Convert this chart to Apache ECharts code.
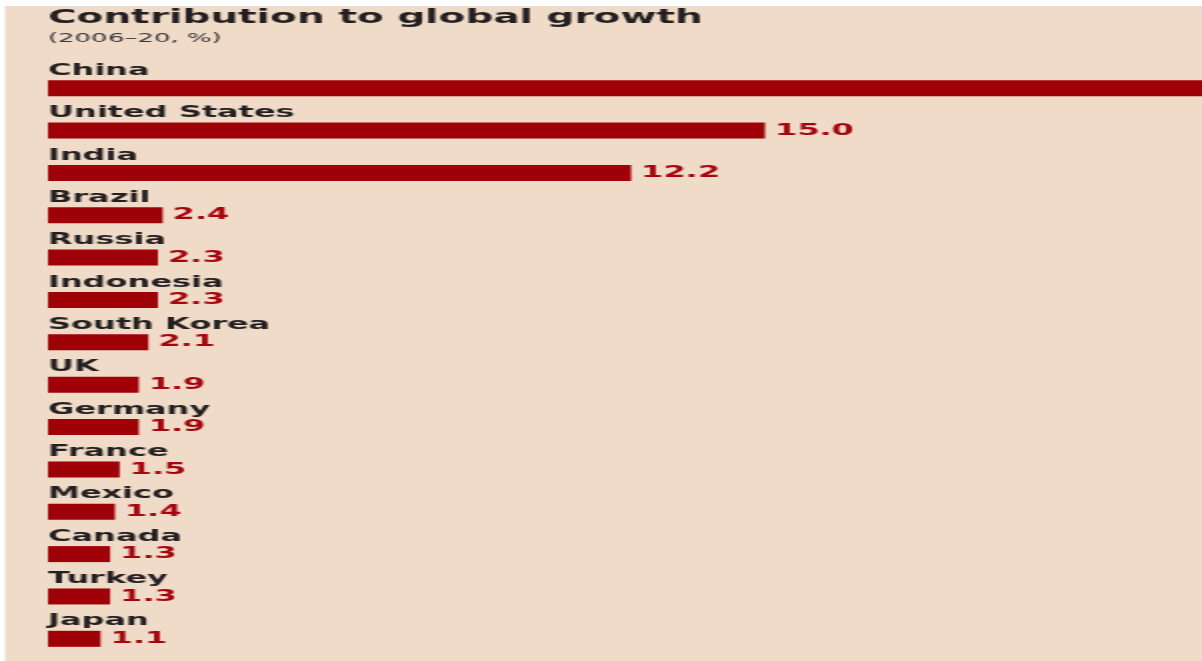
<!DOCTYPE html>
<html>
<head>
<meta charset="utf-8">
<script src="https://cdn.jsdelivr.net/npm/echarts@6/dist/echarts.min.js"></script>
<style>
  html, body { margin: 0; padding: 0; background: #ffffff; overflow: hidden; }
  #wrap { width: 1202px; height: 661px; overflow: hidden; position: relative; }
  #chart { width: 780px; height: 661px; transform: scaleX(2); transform-origin: 0 0; position: absolute; left: 0; top: 0; }
</style>
</head>
<body>
<div id="wrap"><div id="chart"></div></div>
<script>
const titleText = 'Contribution to global growth';
const subtitleText = '(2006\u201320, %)';
const categories = ['China', 'United States', 'India', 'Brazil', 'Russia', 'Indonesia', 'South Korea', 'UK', 'Germany', 'France', 'Mexico', 'Canada', 'Turkey', 'Japan'];
const values = [28.0, 15.0, 12.2, 2.4, 2.3, 2.3, 2.1, 1.9, 1.9, 1.5, 1.4, 1.3, 1.3, 1.1];

const chart = echarts.init(document.getElementById('chart'));
const font = 'DejaVu Sans';
chart.setOption({
  backgroundColor: '#ffffff',
  animation: false,
  graphic: [{
    type: 'rect', z: -10, silent: true,
    shape: { x: 2.5, y: 6, width: 900, height: 700 },
    style: { fill: '#efdbc7' }
  }],
  title: {
    text: titleText,
    subtext: subtitleText,
    left: 24, top: 8, padding: 0,
    itemGap: 4,
    textStyle: { fontFamily: font, fontSize: 19.5, fontWeight: 'bold', color: '#231f20' },
    subtextStyle: { fontFamily: font, fontSize: 13, fontWeight: 'normal', color: '#3a3536' }
  },
  grid: { left: 24, top: 67, width: 717, height: 593, containLabel: false, outerBoundsMode: 'none' },
  xAxis: { type: 'value', min: 0, max: 30, show: false },
  yAxis: {
    type: 'category', data: categories, inverse: true,
    axisLine: { show: false }, axisTick: { show: false }, splitLine: { show: false },
    axisLabel: {
      inside: true, margin: 0, align: 'left', verticalAlign: 'middle',
      interval: 0, showMinLabel: true, showMaxLabel: true, hideOverlap: false,
      formatter: v => v + '\n ',
      lineHeight: 35,
      fontFamily: font, fontSize: 16, fontWeight: 'bold', color: '#231f20'
    }
  },
  series: [{
    type: 'bar', data: values, barWidth: 16,
    itemStyle: { color: '#9e0208' },
    label: {
      show: true, position: 'right', distance: 5,
      formatter: p => p.value.toFixed(1),
      fontFamily: font, fontSize: 16, fontWeight: 'bold', color: '#a5060d'
    }
  }]
});
</script>
</body>
</html>
